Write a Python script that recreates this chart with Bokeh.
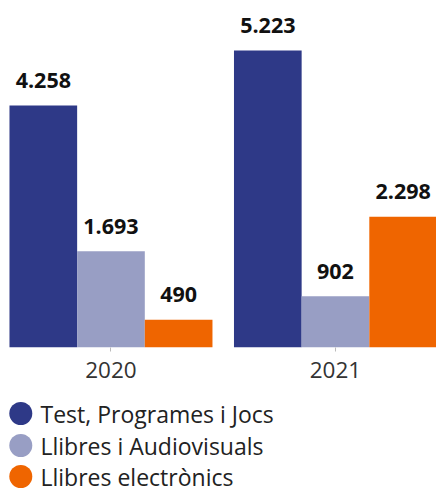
from bokeh.plotting import figure
from bokeh.models import ColumnDataSource, Range1d, FixedTicker
from bokeh.layouts import column
from bokeh.core.properties import value
from bokeh.embed import file_html
from bokeh.resources import INLINE

years = ["2020", "2021"]
series = ["Test, Programes i Jocs", "Llibres i Audiovisuals", "Llibres electrònics"]
colors = ["#2E3987", "#989EC4", "#EF6500"]
values_2020 = [4258, 1693, 490]
values_2021 = [5223, 902, 2298]
values = {"2020": values_2020, "2021": values_2021}

FONT = "Open Sans"
bar_w = 0.3014

xs, ys, cs, labels = [], [], [], []
for gi, yr in enumerate(years):
    for si, s in enumerate(series):
        v = values[yr][si]
        xs.append(gi + (si - 1) * bar_w)
        ys.append(v)
        cs.append(colors[si])
        labels.append(f"{v:,}".replace(",", "."))
src = ColumnDataSource(dict(x=xs, top=ys, color=cs, label=labels))

p = figure(width=436, height=395, output_backend="svg", toolbar_location=None,
           x_range=Range1d(-0.4921, 1.4500), y_range=Range1d(0, 6103),
           min_border_left=0, min_border_right=0, min_border_top=0, min_border_bottom=48)
p.outline_line_color = None
p.grid.visible = False
p.yaxis.visible = False
p.background_fill_color = "white"
p.border_fill_color = "white"

p.vbar(x="x", top="top", bottom=0, width=bar_w, color="color", line_color=None, source=src)
p.text(x="x", y="top", text="label", source=src, text_align="center", text_baseline="alphabetic",
       y_offset=-25, text_font=value(FONT), text_font_style="bold", text_font_size="21.5px",
       text_color="#111111")

ax = p.xaxis[0]
ax.ticker = FixedTicker(ticks=list(range(len(years))))
ax.major_label_overrides = {i: y for i, y in enumerate(years)}
ax.axis_line_color = None
ax.major_tick_line_color = "#BBBBBB"
ax.major_tick_in = 0
ax.major_tick_out = 4
ax.minor_tick_line_color = None
ax.major_label_text_font = FONT
ax.major_label_text_font_size = "22.5px"
ax.major_label_text_color = "#333333"
ax.major_label_standoff = 10

lg = figure(width=436, height=96, output_backend="svg", toolbar_location=None,
            x_range=Range1d(0, 436), y_range=Range1d(96, 0),
            min_border=0)
lg.outline_line_color = None
lg.grid.visible = False
lg.axis.visible = False
lg_src = ColumnDataSource(dict(x=[20.3] * 3, tx=[40] * 3, y=[18, 50, 81],
                               color=colors, label=series))
lg.scatter(x="x", y="y", size=23, color="color", line_color=None, source=lg_src)
lg.text(x="tx", y="y", text="label", source=lg_src, text_baseline="middle", text_align="left",
        text_font=value(FONT), text_font_size="23px", text_color="#222222")

layout = column(p, lg, spacing=0)
open("out.html", "w").write(file_html(layout, INLINE))
